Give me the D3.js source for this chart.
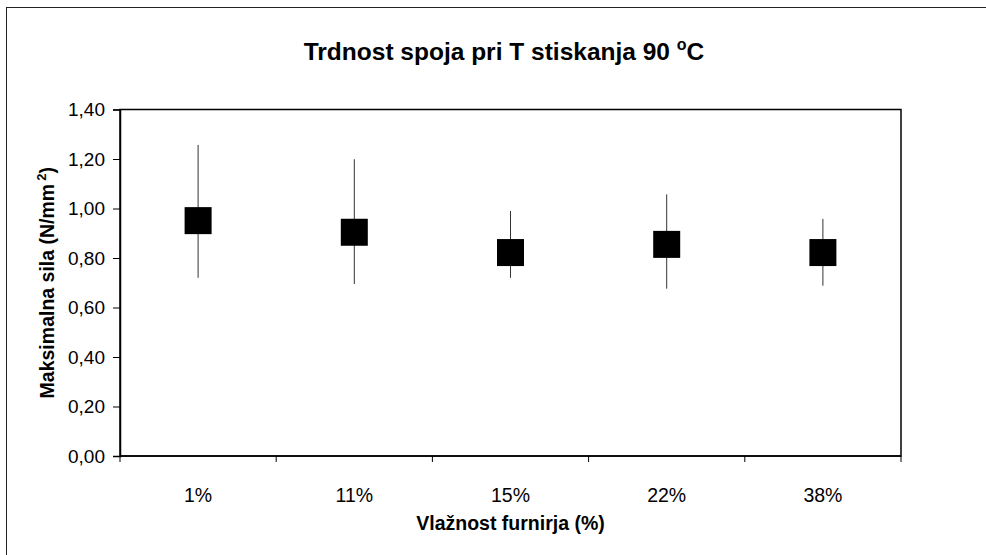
<html>
<head>
<script src="https://d3js.org/d3.v7.min.js"></script>
<style>
  body { margin: 0; background: white; }
  text { font-family: "Liberation Sans", Arial, sans-serif; fill: black; }
  .title { font-size: 24.5px; font-weight: bold; }
  .axisTitle { font-size: 19.5px; font-weight: bold; }
  .tick text { font-size: 19px; }
</style>
</head>
<body>
<script>
var categories = ["1%", "11%", "15%", "22%", "38%"];
var means = [0.951, 0.904, 0.822, 0.855, 0.822];
var highs = [1.257, 1.199, 0.990, 1.057, 0.958];
var lows = [0.720, 0.695, 0.720, 0.676, 0.688];
var yTicks = [0, 0.2, 0.4, 0.6, 0.8, 1.0, 1.2, 1.4];

var width = 986, height = 555;
var margin = {left: 120, top: 109.5, right: 85, bottom: 99};

var svg = d3.select("body").append("svg")
    .attr("width", width)
    .attr("height", height);

// outer chart border (runs off the right and bottom edges)
svg.append("rect")
    .attr("x", 6.5).attr("y", 7.5)
    .attr("width", width + 10).attr("height", height + 10)
    .attr("fill", "white")
    .attr("stroke", "#222").attr("stroke-width", 1);

var x = d3.scaleBand()
    .domain(categories)
    .range([margin.left, width - margin.right]);

var y = d3.scaleLinear()
    .domain([0, 1.4])
    .range([height - margin.bottom, margin.top]);

// plot frame
svg.append("rect")
    .attr("x", x.range()[0]).attr("y", y(1.4))
    .attr("width", x.range()[1] - x.range()[0])
    .attr("height", y(0) - y(1.4))
    .attr("fill", "none")
    .attr("stroke", "black").attr("stroke-width", 1.5);

var fmt = function(d){ return d3.format(".2f")(d).replace(".", ","); };

var yAxis = svg.append("g")
    .attr("transform", "translate(" + margin.left + ",0)")
    .call(d3.axisLeft(y).tickValues(yTicks).tickFormat(fmt).tickSize(7).tickPadding(8));
yAxis.select(".domain").attr("stroke-width", 1.5);

// x axis: ticks at the band edges, labels in the middle
var edges = categories.map(function(c){ return x(c); }).concat([x.range()[1]]);
var xAxis = svg.append("g")
    .attr("transform", "translate(0," + y(0) + ")");
xAxis.append("line")
    .attr("x1", x.range()[0]).attr("x2", x.range()[1])
    .attr("stroke", "black").attr("stroke-width", 1.5);
xAxis.selectAll("line.edge")
    .data(edges).enter()
    .append("line")
    .attr("class", "edge")
    .attr("x1", d => d).attr("x2", d => d)
    .attr("y1", 0).attr("y2", 6)
    .attr("stroke", "black");
xAxis.selectAll("text.cat")
    .data(categories).enter()
    .append("text")
    .attr("class", "cat")
    .attr("x", d => x(d) + x.bandwidth() / 2)
    .attr("y", 46)
    .attr("text-anchor", "middle")
    .style("font-size", "19.5px")
    .text(d => d);

// error bars
var g = svg.append("g");
g.selectAll("line.err")
    .data(categories).enter()
    .append("line")
    .attr("class", "err")
    .attr("x1", d => x(d) + x.bandwidth() / 2)
    .attr("x2", d => x(d) + x.bandwidth() / 2)
    .attr("y1", (d, i) => y(highs[i]))
    .attr("y2", (d, i) => y(lows[i]))
    .attr("stroke", "#333").attr("stroke-width", 1);

var ms = 27;
g.selectAll("rect.mark")
    .data(categories).enter()
    .append("rect")
    .attr("class", "mark")
    .attr("x", d => x(d) + x.bandwidth() / 2 - ms / 2)
    .attr("y", (d, i) => y(means[i]) - ms / 2)
    .attr("width", ms).attr("height", ms)
    .attr("fill", "black");

// title
var title = svg.append("text")
    .attr("class", "title")
    .attr("x", 504).attr("y", 60)
    .attr("text-anchor", "middle");
title.append("tspan").text("Trdnost spoja pri T stiskanja 90 ");
title.append("tspan").attr("dy", -10).style("font-size", "16px").text("o");
title.append("tspan").attr("dy", 10).text("C");

// axis titles
svg.append("text")
    .attr("class", "axisTitle")
    .attr("x", (x.range()[0] + x.range()[1]) / 2)
    .attr("y", 530)
    .attr("text-anchor", "middle")
    .text("Vlažnost furnirja (%)");

var yt = svg.append("text")
    .attr("class", "axisTitle")
    .attr("transform", "translate(54," + ((y(0) + y(1.4)) / 2) + ") rotate(-90)")
    .attr("text-anchor", "middle");
yt.append("tspan").text("Maksimalna sila (N/mm");
yt.append("tspan").attr("dy", -8).attr("dx", 3).style("font-size", "13px").text("2");
yt.append("tspan").attr("dy", 8).text(")");
</script>
</body>
</html>
